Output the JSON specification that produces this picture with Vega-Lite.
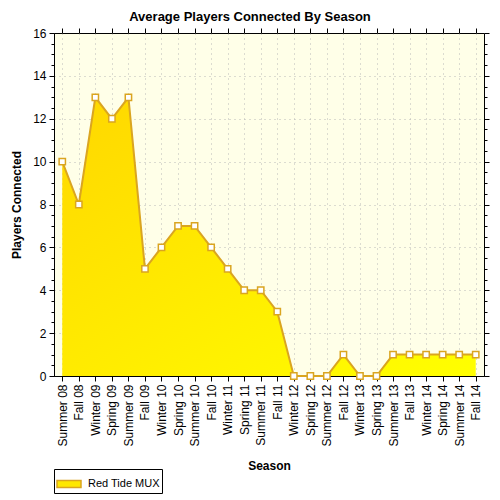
{
  "$schema": "https://vega.github.io/schema/vega-lite/v6.json",
  "width": 430,
  "height": 343,
  "autosize": {"type": "none"},
  "padding": {"left": 54, "top": 33, "right": 16, "bottom": 124},
  "background": "white",
  "title": {
    "text": "Average Players Connected By Season",
    "font": "Liberation Sans",
    "fontSize": 13,
    "fontWeight": "bold",
    "color": "black",
    "anchor": "middle",
    "dx": -19,
    "offset": 3
  },
  "config": {
    "font": "Liberation Sans",
    "view": {"stroke": "black", "strokeWidth": 1, "fill": "#FFFFE8"}
  },
  "data": {
    "values": [
      {"season": "Summer 08", "players": 10},
      {"season": "Fall 08", "players": 8},
      {"season": "Winter 09", "players": 13},
      {"season": "Spring 09", "players": 12},
      {"season": "Summer 09", "players": 13},
      {"season": "Fall 09", "players": 5},
      {"season": "Winter 10", "players": 6},
      {"season": "Spring 10", "players": 7},
      {"season": "Summer 10", "players": 7},
      {"season": "Fall 10", "players": 6},
      {"season": "Winter 11", "players": 5},
      {"season": "Spring 11", "players": 4},
      {"season": "Summer 11", "players": 4},
      {"season": "Fall 11", "players": 3},
      {"season": "Winter 12", "players": 0},
      {"season": "Spring 12", "players": 0},
      {"season": "Summer 12", "players": 0},
      {"season": "Fall 12", "players": 1},
      {"season": "Winter 13", "players": 0},
      {"season": "Spring 13", "players": 0},
      {"season": "Summer 13", "players": 1},
      {"season": "Fall 13", "players": 1},
      {"season": "Winter 14", "players": 1},
      {"season": "Spring 14", "players": 1},
      {"season": "Summer 14", "players": 1},
      {"season": "Fall 14", "players": 1}
    ]
  },
  "layer": [
    {
      "mark": {
        "type": "area",
        "fill": {
          "gradient": "linear",
          "x1": 0, "y1": 0, "x2": 1, "y2": 1,
          "stops": [
            {"offset": 0, "color": "#FFD700"},
            {"offset": 1, "color": "#FFFF00"}
          ]
        },
        "fillOpacity": 1
      },
      "encoding": {
        "x": {
          "field": "season",
          "type": "ordinal",
          "sort": null,
          "scale": {"type": "point", "padding": 0.5},
          "axis": {
            "orient": "bottom",
            "title": "Season",
            "titleFont": "Liberation Sans",
            "titleFontSize": 12,
            "titleFontWeight": "bold",
            "titleColor": "black",
            "titlePadding": 14,
            "labelAngle": -90,
            "labelAlign": "right",
            "labelBaseline": "middle",
            "labelFontSize": 12,
            "labelColor": "black",
            "labelPadding": 3,
            "labelOverlap": false,
            "tickSize": 5,
            "tickColor": "black",
            "domainColor": "black",
            "grid": true,
            "gridColor": "#b8b8b8",
            "gridDash": [1, 4]
          }
        },
        "y": {
          "field": "players",
          "type": "quantitative",
          "scale": {"domain": [0, 16], "nice": false},
          "axis": {
            "orient": "left",
            "title": "Players Connected",
            "titleFont": "Liberation Sans",
            "titleFontSize": 12,
            "titleFontWeight": "bold",
            "titleColor": "black",
            "titlePadding": 9,
            "values": [0, 0.5, 1, 1.5, 2, 2.5, 3, 3.5, 4, 4.5, 5, 5.5, 6, 6.5, 7, 7.5, 8, 8.5, 9, 9.5, 10, 10.5, 11, 11.5, 12, 12.5, 13, 13.5, 14, 14.5, 15, 15.5, 16],
            "labelExpr": "datum.value % 2 === 0 ? '' + datum.value : ''",
            "labelOverlap": false,
            "labelFlush": false,
            "labelFontSize": 12,
            "labelColor": "black",
            "labelPadding": 3,
            "tickSize": {"condition": {"test": "datum.value % 2 === 0", "value": 5}, "value": 3},
            "tickColor": "black",
            "domainColor": "black",
            "grid": true,
            "gridColor": "#b8b8b8",
            "gridDash": [1, 4],
            "gridOpacity": {"condition": {"test": "datum.value % 2 === 0 && datum.value > 0 && datum.value < 16", "value": 1}, "value": 0}
          }
        }
      }
    },
    {
      "mark": {"type": "line", "strokeWidth": 2},
      "encoding": {
        "x": {
          "field": "season",
          "type": "ordinal",
          "sort": null,
          "scale": {"type": "point", "padding": 0.5},
          "axis": {
            "orient": "top",
            "title": null,
            "labels": false,
            "domain": false,
            "grid": false,
            "tickSize": 5,
            "tickColor": "black"
          }
        },
        "y": {
          "field": "players",
          "type": "quantitative",
          "scale": {"domain": [0, 16], "nice": false},
          "axis": {
            "orient": "right",
            "title": null,
            "labels": false,
            "domain": false,
            "grid": false,
            "values": [0, 0.5, 1, 1.5, 2, 2.5, 3, 3.5, 4, 4.5, 5, 5.5, 6, 6.5, 7, 7.5, 8, 8.5, 9, 9.5, 10, 10.5, 11, 11.5, 12, 12.5, 13, 13.5, 14, 14.5, 15, 15.5, 16],
            "tickSize": {"condition": {"test": "datum.value % 2 === 0", "value": 5}, "value": 3},
            "tickColor": "black"
          }
        },
        "stroke": {
          "datum": "Red Tide MUX",
          "type": "nominal",
          "scale": {"range": ["#DAA520"]},
          "legend": {
            "title": null,
            "orient": "none",
            "legendX": 0,
            "legendY": 436,
            "strokeColor": "black",
            "fillColor": "white",
            "padding": 2,
            "symbolType": "M-1,-0.3H1V0.3H-1Z",
            "symbolSize": 576,
            "symbolFillColor": "#FFE800",
            "symbolStrokeColor": "#DAA520",
            "symbolStrokeWidth": 1.5,
            "labelFont": "Liberation Sans",
            "labelFontSize": 11,
            "labelColor": "black",
            "labelOffset": 6
          }
        }
      }
    },
    {
      "mark": {
        "type": "point",
        "shape": "square",
        "filled": true,
        "fill": "white",
        "stroke": "#DAA520",
        "strokeWidth": 1.5,
        "size": 40,
        "opacity": 1
      },
      "encoding": {
        "x": {
          "field": "season",
          "type": "ordinal",
          "sort": null,
          "scale": {"type": "point", "padding": 0.5},
          "axis": null
        },
        "y": {
          "field": "players",
          "type": "quantitative",
          "scale": {"domain": [0, 16], "nice": false},
          "axis": null
        }
      }
    }
  ],
  "resolve": {"axis": {"x": "independent", "y": "independent"}}
}
